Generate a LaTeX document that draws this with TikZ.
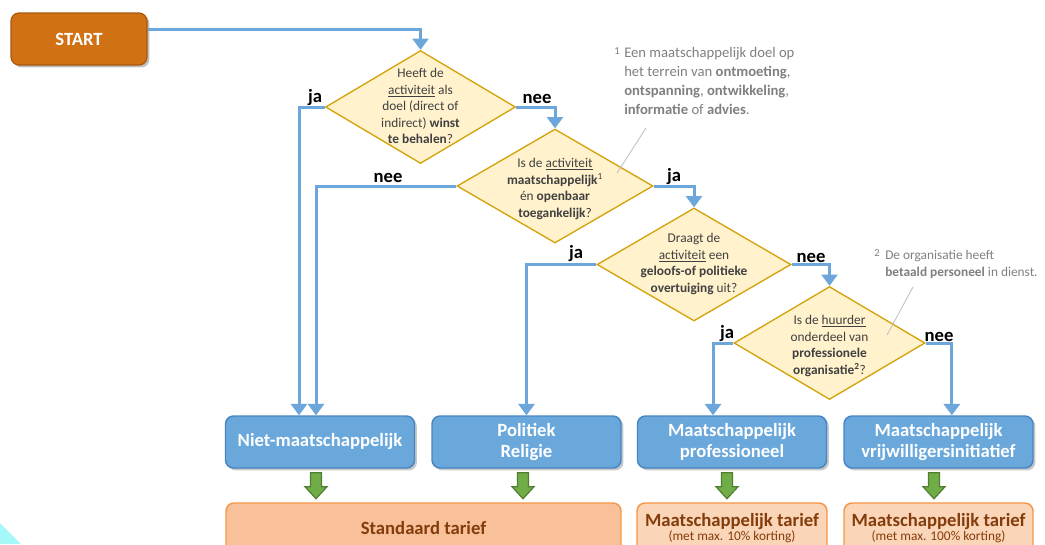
\documentclass[tikz,border=0pt]{standalone}
\usepackage{fontspec}
\setmainfont{Carlito}
\usetikzlibrary{shapes.geometric,arrows.meta,shadows}
\definecolor{startfill}{RGB}{208,113,20}
\definecolor{startborder}{RGB}{168,88,12}
\definecolor{flowblue}{RGB}{108,166,218}
\definecolor{diafill}{RGB}{255,242,204}
\definecolor{diaborder}{RGB}{212,162,10}
\definecolor{dtextc}{RGB}{64,64,64}
\definecolor{bluefill}{RGB}{106,168,220}
\definecolor{blueborder}{RGB}{70,134,196}
\definecolor{greenfill}{RGB}{112,173,71}
\definecolor{greenborder}{RGB}{80,126,50}
\definecolor{stdfill}{RGB}{248,193,154}
\definecolor{mtfill}{RGB}{251,213,183}
\definecolor{orangeborder}{RGB}{247,150,70}
\definecolor{browntext}{RGB}{131,60,11}
\definecolor{notegray}{RGB}{128,128,128}
\definecolor{leadergray}{RGB}{190,190,190}
\definecolor{cyanc}{RGB}{166,247,247}
\begin{document}
\begin{tikzpicture}[x=0.75pt,y=-0.75pt,
  flow/.style={draw=flowblue, line width=2.25pt, -{Triangle[width=12pt,length=8.5pt]}},
  decision/.style={diamond, draw=diaborder, fill=diafill, line width=1pt, inner sep=0pt},
  dtext/.style={align=center, font=\fontsize{10}{12.4}\selectfont, text=dtextc, inner sep=0pt},
  startbox/.style={rectangle, rounded corners=6pt, draw=startborder, fill=startfill, line width=0.9pt,
    text=white, font=\bfseries\fontsize{14}{16}\selectfont, minimum width=102pt, minimum height=39pt,
    drop shadow={shadow xshift=1.8pt, shadow yshift=-1.8pt, opacity=0.35, fill=black!70}},
  bluebox/.style={rectangle, rounded corners=6pt, draw=blueborder, fill=bluefill, line width=1.1pt,
    text=white, font=\bfseries\fontsize{14}{16}\selectfont, align=center,
    minimum width=141.75pt, minimum height=39pt,
    drop shadow={shadow xshift=1.8pt, shadow yshift=-1.8pt, opacity=0.3, fill=black!70}},
  tarief/.style={rectangle, rounded corners=6pt, draw=orangeborder, line width=1.1pt,
    text=browntext, align=center, minimum height=37.5pt},
  lbl/.style={font=\bfseries\fontsize{14}{16}\selectfont, text=black, inner sep=0pt},
  note/.style={align=left, text=notegray, inner sep=0pt, anchor=north west},
  noteno/.style={text=notegray, inner sep=0pt, font=\fontsize{8}{9}\selectfont},
  leader/.style={draw=leadergray, line width=0.6pt},
  greenarr/.pic={\draw[fill=greenfill, draw=greenborder, line width=0.9pt]
    (-5.5,0) -- (5.5,0) -- (5.5,14) -- (11,14) -- (0,26) -- (-11,14) -- (-5.5,14) -- cycle;}
]
\clip (0,0) rectangle (1045,544);
\fill[white] (0,0) rectangle (1045,544);
\fill[cyanc] (0,523) -- (21,544) -- (0,544) -- cycle;

% start
\node[startbox] (start) at (79,39) {START};

% decisions
\node[decision, minimum width=142.5pt, minimum height=84.75pt] (d1) at (420.5,107) {};
\node[dtext] (t1) at ([yshift=0.5pt]d1.center) {Heeft de\\\underline{activiteit} als\\doel (direct of\\indirect) \textbf{winst}\\\textbf{te behalen}?};
\node[decision, minimum width=147pt, minimum height=85.5pt] (d2) at (555,186) {};
\node[dtext] (t2) at ([yshift=-2.25pt]d2.center) {Is de \underline{activiteit}\\\textbf{maatschappelijk}\textsuperscript{1}\\én \textbf{openbaar}\\\textbf{toegankelijk}?};
\node[decision, minimum width=145.5pt, minimum height=84.75pt] (d3) at (694,264.5) {};
\node[dtext] (t3) at ([yshift=0.3pt]d3.center) {Draagt de\\\underline{activiteit} een\\\textbf{geloofs-of politieke}\\\textbf{overtuiging} uit?};
\node[decision, minimum width=143.25pt, minimum height=84.75pt] (d4) at (829.5,343) {};
\node[dtext] (t4) at ([yshift=-2.25pt]d4.center) {Is de \underline{huurder}\\onderdeel van\\\textbf{professionele}\\\textbf{organisatie\textsuperscript{2}}?};

% category boxes
\node[bluebox] (nm) at (320,442) {Niet-maatschappelijk};
\node[bluebox] (po) at (526.5,442) {Politiek\\Religie};
\node[bluebox] (mp) at (732,442) {Maatschappelijk\\professioneel};
\node[bluebox] (mv) at (938.5,442) {Maatschappelijk\\vrijwilligersinitiatief};

% tariff boxes
\node[tarief, fill=stdfill, minimum width=296.25pt, font=\bfseries\fontsize{14}{16}\selectfont] (std) at (423.5,528) {Standaard tarief};
\node[tarief, fill=mtfill, minimum width=142.5pt] (mt1) at (732,528) {{\bfseries\fontsize{14}{14}\selectfont Maatschappelijk tarief}\\[-1pt]{\fontsize{10}{11}\selectfont (met max. 10\% korting)}};
\node[tarief, fill=mtfill, minimum width=141.75pt] (mt2) at (938.5,528) {{\bfseries\fontsize{14}{14}\selectfont Maatschappelijk tarief}\\[-1pt]{\fontsize{10}{11}\selectfont (met max. 100\% korting)}};

% flow connectors
\draw[flow] ([yshift=7.5pt]start.east) -| (d1.north);
\draw[flow] (d1.west) -| ([xshift=-15.75pt]nm.north);
\draw[flow] (d1.east) -| (d2.north);
\draw[flow] (d2.west) -| ([xshift=-3pt]nm.north);
\draw[flow] (d2.east) -| (d3.north);
\draw[flow] (d3.west) -| (po.north);
\draw[flow] (d3.east) -| (d4.north);
\draw[flow] (d4.west) -| ([xshift=-14.25pt]mp.north);
\draw[flow] (d4.east) -| ([xshift=10pt]mv.north);

% labels
\node[lbl] (l1) at (315,98) {ja};
\node[lbl] (l2) at (537,99) {nee};
\node[lbl] (l3) at (388,178) {nee};
\node[lbl] (l4) at (674,177) {ja};
\node[lbl] (l5) at (576,254) {ja};
\node[lbl] (l6) at (811,258) {nee};
\node[lbl] (l7) at (727,334) {ja};
\node[lbl] (l8) at (939,337) {nee};

% green arrows
\path (nm.south) ++(-4,4) pic {greenarr};
\path (po.south) ++(-3.5,4) pic {greenarr};
\path (mp.south) ++(-5,4) pic {greenarr};
\path (mv.south) ++(-4.5,4) pic {greenarr};

% footnotes
\node[noteno] (n1) at (617,51) {1};
\node[note, font=\fontsize{11}{14.2}\selectfont] (f1) at (624,47) {Een maatschappelijk doel op\\het terrein van \textbf{ontmoeting},\\\textbf{ontspanning}, \textbf{ontwikkeling},\\\textbf{informatie} of \textbf{advies}.};
\node[noteno] (n2) at (877,253) {2};
\node[note, font=\fontsize{10}{12.75}\selectfont] (f2) at (885,250) {De organisatie heeft\\\textbf{betaald personeel} in dienst.};

\coordinate (c1a) at (646,128);
\coordinate (c1b) at (617,173);
\coordinate (c2a) at (913,287);
\coordinate (c2b) at (887,335);
\draw[leader] (c1a) -- (c1b);
\draw[leader] (c2a) -- (c2b);
\end{tikzpicture}
\end{document}
